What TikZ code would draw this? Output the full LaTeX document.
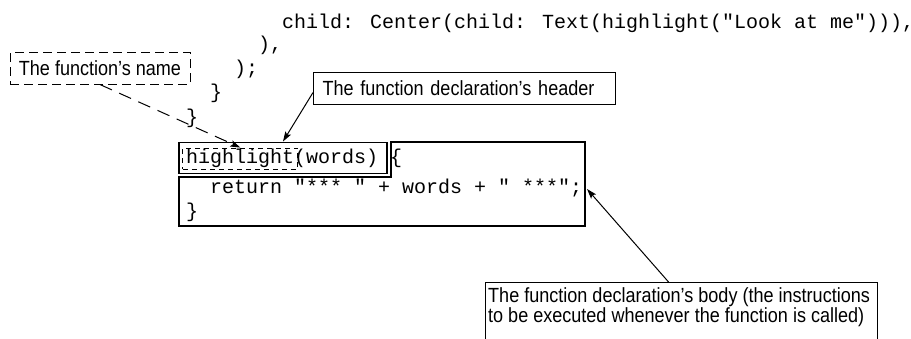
\documentclass[tikz,border=0pt]{standalone}
\usepackage{fontspec}
\usetikzlibrary{arrows.meta}
\newfontfamily\codefont{Liberation Mono}
\newfontfamily\lblfont[FakeStretch=0.88]{Liberation Sans}
\tikzset{
  code/.style={anchor=base west, inner sep=0pt, font=\codefont\fontsize{20}{24}\selectfont},
  lbl/.style={font=\lblfont\fontsize{20.5}{20.5}\selectfont},
  boxline/.style={line width=1.1pt},
  arr/.style={line width=1pt, -{Stealth[length=10pt,width=6.5pt,inset=2pt]}},
  dasharr/.style={arr, dash pattern=on 13pt off 8pt},
}
\begin{document}
\begin{tikzpicture}[x=1pt,y=-1pt]
\useasboundingbox (0,0) rectangle (911,338);
% code lines
\node[code] (c1) at (282,28) {child: Center(child: Text(highlight("Look at me"))),};
\node[code] (c2) at (258,50) {),};
\node[code] (c3) at (234,74) {);};
\node[code] (c4) at (210,98) {\}};
\node[code] (c5) at (186,123) {\}};
\node[code] (c6) at (186,163) {highlight(words) \{};
\node[code] (c7) at (210,193) {return "*** " + words + " ***";};
\node[code] (c8) at (186,217) {\}};
% header box
\node[boxline, draw, minimum width=208pt, minimum height=31.5pt, inner sep=0pt] (hbox) at (283,157.8) {};
% highlight dashed box
\node[draw, line width=0.9pt, dash pattern=on 5pt off 4pt, minimum width=115pt, minimum height=21pt, inner sep=0pt] (hlbox) at (240.3,158.5) {};
% body polygon
\coordinate (b1) at (391,142);
\coordinate (b2) at (585,142);
\coordinate (b3) at (585,226);
\coordinate (b4) at (179,226);
\coordinate (b5) at (179,177);
\coordinate (b6) at (391,177);
\draw[boxline] (b1) -- (b2) -- (b3) -- (b4) -- (b5) -- (b6) -- cycle;
\coordinate (bodytip) at (587,189);
% labels
\node[lbl, draw, line width=1pt, dash pattern=on 9pt off 5pt, minimum width=180pt, minimum height=31.5pt, inner sep=0pt] (name) at (100,68.3) {The function’s name};
\node[lbl, draw, boxline, anchor=north west, minimum width=302pt, minimum height=32pt, text width=284pt, inner xsep=9pt, inner ysep=0pt, align=left] (hdr) at (313,72) {The function declaration’s header};
\node[draw, boxline, anchor=north west, minimum width=392pt, minimum height=80pt, inner sep=0pt] (bodybox) at (485,282) {};
\node[lbl, anchor=north west, inner sep=0pt, align=left] (body) at (488,287) {The function declaration’s body (the instructions\\to be executed whenever the function is called)};
% connectors
\draw[dasharr] (name.south) -- (hlbox.north);
\draw[arr] ([yshift=-4pt]hdr.west) -- (hbox.north);
\draw[arr] ([xshift=-13pt]bodybox.north) -- (bodytip);
\end{tikzpicture}
\end{document}
